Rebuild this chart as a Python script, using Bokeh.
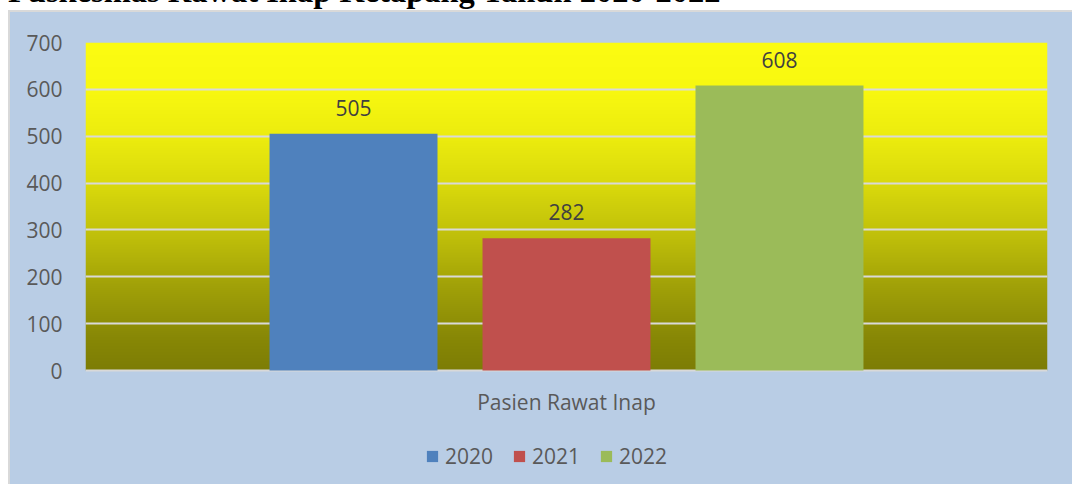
import numpy as np
from bokeh.plotting import figure
from bokeh.models import (ColumnDataSource, FactorRange, Range1d, FixedTicker,
                          Legend, LegendItem, LabelSet, Div)
from bokeh.core.properties import value
from bokeh.transform import dodge
from bokeh.layouts import column, row
from bokeh.embed import file_html
from bokeh.resources import INLINE

# ---------------- data ----------------
title_text = "Puskesmas Rawat Inap Ketapang Tahun 2020-2022"
category = ["Pasien Rawat Inap"]
years = ["2020", "2021", "2022"]
patients = [505, 282, 608]
bar_colors = ["#4F81BD", "#C0504D", "#9BBB59"]
y_ticks = [0, 100, 200, 300, 400, 500, 600, 700]

# ---------------- style ----------------
CHART_BG = "#B9CDE5"
BORDER = "#D9D9D9"
TXT = "#595959"
LBL = "#404040"
FONT = "Open Sans"
FS = "21px"

W, H = 1062, 472
ML, MR, MT, MB = 75, 25, 30, 4
plot_px = 328                       # pixel height of the 0..700 band
frame_h = H - MT - MB
ymax = y_ticks[-1]
ymin = ymax - frame_h * (ymax - y_ticks[0]) / plot_px

p = figure(x_range=FactorRange(*category, range_padding=0),
           y_range=Range1d(ymin, ymax),
           width=W, height=H, output_backend="svg", toolbar_location=None,
           min_border_left=ML, min_border_right=MR, min_border_top=MT,
           min_border_bottom=MB, border_fill_color=CHART_BG,
           background_fill_color=CHART_BG, outline_line_color=None)
p.styles = {"background-color": CHART_BG}

# gradient background of the plot area (yellow -> olive)
stops_t = [0.0, 0.15, 0.3, 0.45, 0.6, 0.75, 0.9, 1.0]
stops_v = [252, 248, 235, 215, 190, 160, 136, 125]
stops_b = [18, 16, 14, 12, 10, 8, 6, 5]
n = plot_px
t = np.linspace(1.0, 0.0, n)  # row 0 is bottom
rv = np.interp(t, stops_t, stops_v).astype(np.uint32)
bv = np.interp(t, stops_t, stops_b).astype(np.uint32)
img = (np.uint32(255) << 24) | (bv << 16) | (rv << 8) | rv
img = img.astype(np.uint32).reshape(n, 1)
p.image_rgba(image=[img], x=0, y=y_ticks[0], dw=1, dh=ymax - y_ticks[0],
             level="image")

# bars
width = 0.1746
step = 0.2214
items = []
for i, (yr, val, col) in enumerate(zip(years, patients, bar_colors)):
    off = (i - 1) * step
    src = ColumnDataSource(dict(x=category, y=[val], label=[str(val)]))
    r = p.vbar(x=dodge("x", off, range=p.x_range), top="y", width=width,
               source=src, fill_color=col, line_color=None)
    items.append(LegendItem(label=yr, renderers=[r]))
    labels = LabelSet(x=dodge("x", off, range=p.x_range), y="y", text="label",
                      source=src, y_offset=26, text_align="center",
                      text_baseline="middle", text_font=value(FONT),
                      text_font_size=FS, text_color=LBL)
    p.add_layout(labels)

# axes
p.yaxis.ticker = FixedTicker(ticks=y_ticks)
for ax in (p.xaxis[0], p.yaxis[0]):
    ax.axis_line_color = None
    ax.major_tick_line_color = None
    ax.minor_tick_line_color = None
    ax.major_tick_in = 0
    ax.major_tick_out = 0
    ax.major_label_text_font = FONT
    ax.major_label_text_font_size = FS
    ax.major_label_text_color = TXT
p.xaxis.fixed_location = y_ticks[0]
p.yaxis.major_label_standoff = 23
p.xaxis.major_label_standoff = 17

p.xgrid.grid_line_color = None
p.ygrid.grid_line_color = BORDER
p.ygrid.grid_line_width = 2

legend = Legend(items=items, orientation="horizontal", location=(340, 10),
                glyph_width=14, glyph_height=14, label_height=20,
                label_text_font=FONT, label_text_font_size=FS,
                label_text_color=TXT, label_standoff=6, spacing=19,
                padding=0, margin=0, border_line_color=None,
                background_fill_alpha=0)
p.add_layout(legend)

title = Div(text=(f'<div style="position:relative; width:1072px; height:12px;">'
                  f'<div style="position:absolute; left:8px; top:-25px; '
                  f"font-family:'Liberation Serif'; font-weight:bold; "
                  f'font-size:32.5px; line-height:33px; white-space:nowrap; '
                  f'color:#000000">{title_text}</div>'
                  f'<div style="position:absolute; left:8px; top:10px; '
                  f'width:1064px; height:2px; background:{BORDER}"></div>'
                  f'</div>'),
            width=1072, height=12, margin=0, styles={"overflow": "visible"})
left_border = Div(text="", width=2, height=H, margin=(0, 0, 0, 8),
                  styles={"background-color": BORDER})

layout = column(title, row(left_border, p, spacing=0), spacing=0)
open("out.html", "w").write(file_html(layout, INLINE))
